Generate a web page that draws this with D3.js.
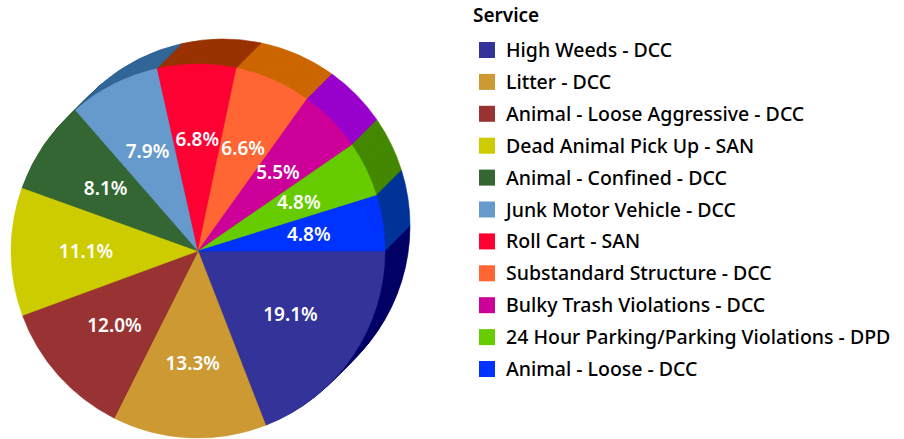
<!DOCTYPE html>
<html>
<head>
<meta charset="utf-8">
<script src="https://cdn.jsdelivr.net/npm/d3@7"></script>
<style>
  body { margin: 0; background: #fff; }
  svg { display: block; }
</style>
</head>
<body>
<div id="chart"></div>
<script>
var services = ["High Weeds - DCC", "Litter - DCC", "Animal - Loose Aggressive - DCC",
  "Dead Animal Pick Up - SAN", "Animal - Confined - DCC", "Junk Motor Vehicle - DCC",
  "Roll Cart - SAN", "Substandard Structure - DCC", "Bulky Trash Violations - DCC",
  "24 Hour Parking/Parking Violations - DPD", "Animal - Loose - DCC"];
var shares = [19.1, 13.3, 12.0, 11.1, 8.1, 7.9, 6.8, 6.6, 5.5, 4.8, 4.8];
var topColors = ["#333399", "#CC9933", "#993333", "#CCCC00", "#336633", "#6699CC",
  "#FF0033", "#FF6633", "#CC0099", "#66CC00", "#0033FF"];
var sideColors = ["#000066", "#996600", "#660000", "#999900", "#003300", "#336699",
  "#993300", "#CC6600", "#9900CC", "#448800", "#003399"];

var width = 904, height = 439;
var cx = 198, cy = 251, radius = 187;
var depth = 25;  // extrusion toward upper right

var svg = d3.select("#chart").append("svg")
    .attr("width", width)
    .attr("height", height);

var dataset = services.map(function(s, i) {
  return {label: s, value: shares[i], top: topColors[i], side: sideColors[i]};
});

var pie = d3.pie()
    .value(function(d) { return d.value; })
    .sort(null)
    .startAngle(Math.PI / 2)
    .endAngle(Math.PI / 2 + 2 * Math.PI);

var arcs = pie(dataset);

var arc = d3.arc()
    .innerRadius(0)
    .outerRadius(radius);

var labelArc = d3.arc()
    .innerRadius(112)
    .outerRadius(112);

// side wall: stacked copies from back to front
var wall = svg.append("g").attr("class", "wall");
for (var k = depth; k >= 1; k--) {
  wall.append("g")
      .attr("transform", "translate(" + (cx + k) + "," + (cy - k) + ")")
    .selectAll("path")
    .data(arcs)
    .enter()
    .append("path")
      .attr("d", arc)
      .attr("fill", function(d) { return d.data.side; })
      .attr("stroke", function(d) { return d.data.side; })
      .attr("stroke-width", 0.6);
}

var g = svg.append("g")
    .attr("transform", "translate(" + cx + "," + cy + ")");

g.selectAll("path.slice")
    .data(arcs)
    .enter()
    .append("path")
      .attr("class", "slice")
      .attr("d", arc)
      .attr("fill", function(d) { return d.data.top; })
      .attr("stroke", function(d) { return d.data.top; })
      .attr("stroke-width", 0.5);

g.selectAll("text.pct")
    .data(arcs)
    .enter()
    .append("text")
      .attr("class", "pct")
      .attr("transform", function(d) { return "translate(" + labelArc.centroid(d) + ")"; })
      .attr("text-anchor", "middle")
      .attr("dy", "0.36em")
      .style("font-family", "'Noto Sans', sans-serif")
      .style("font-size", "19px")
      .style("font-weight", "600")
      .style("fill", "#fff")
      .text(function(d) { return d.data.value.toFixed(1) + "%"; });

// legend
var legendX = 479, legendY = 50, rowH = 31.9, box = 16;

svg.append("text")
    .attr("x", 473)
    .attr("y", 21.5)
    .text("Service")
    .style("font-family", "'Noto Sans', sans-serif")
    .style("font-size", "19px")
    .style("font-weight", "600")
    .style("fill", "#000");

var legend = svg.selectAll(".legend")
    .data(dataset)
    .enter()
    .append("g")
      .attr("class", "legend")
      .attr("transform", function(d, i) {
        return "translate(" + legendX + "," + (legendY + i * rowH) + ")";
      });

legend.append("rect")
    .attr("x", 0)
    .attr("y", -box / 2)
    .attr("width", box)
    .attr("height", box)
    .style("fill", function(d) { return d.top; });

legend.append("text")
    .attr("x", 27)
    .attr("y", 0)
    .attr("dy", "0.36em")
    .text(function(d) { return d.label; })
    .style("font-family", "'Noto Sans', sans-serif")
    .style("font-size", "19.5px")
    .style("font-weight", "500")
    .style("fill", "#000");
</script>
</body>
</html>
